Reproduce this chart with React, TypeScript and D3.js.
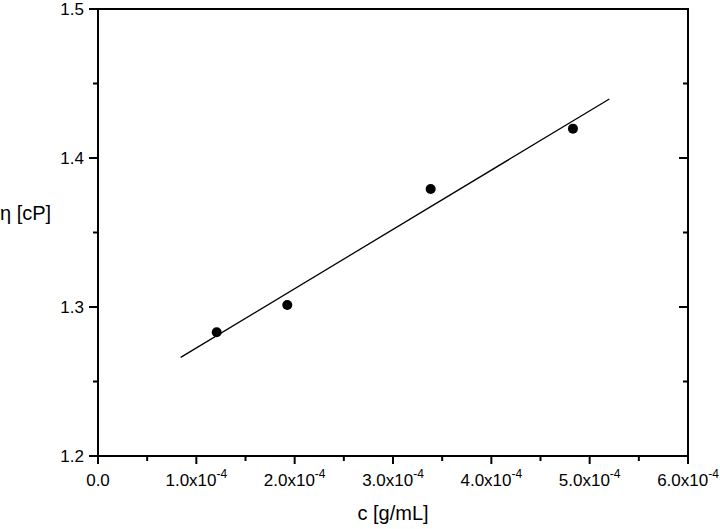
import React from 'react';
import * as d3 from 'd3';

// measured points
const concentration = [1.207e-4, 1.925e-4, 3.383e-4, 4.83e-4];
const viscosity = [1.283, 1.3013, 1.3792, 1.4197];

// linear fit, drawn between two end points
const fitX = [0.841e-4, 5.2e-4];
const fitY = [1.2662, 1.4396];

const xMajor = [0, 1e-4, 2e-4, 3e-4, 4e-4, 5e-4, 6e-4];
const xMinor = [0.5e-4, 1.5e-4, 2.5e-4, 3.5e-4, 4.5e-4, 5.5e-4];
const xTickMantissa = ['0.0', '1.0', '2.0', '3.0', '4.0', '5.0', '6.0'];
const yMajor = [1.2, 1.3, 1.4, 1.5];
const yMinor = [1.25, 1.35, 1.45];

const W = 720;
const H = 529;
const margin = { top: 9, right: 32, bottom: 73, left: 98 };
const font = '"Liberation Sans", Arial, sans-serif';

const App = () => {
  const x = d3.scaleLinear().domain([0, 6e-4]).range([margin.left, W - margin.right]);
  const y = d3.scaleLinear().domain([1.2, 1.5]).range([H - margin.bottom, margin.top]);

  const [x0, x1] = x.range();
  const [y0, y1] = y.range();

  const line = d3.line<number>()
    .x((d, i) => x(fitX[i]))
    .y((d) => y(d));

  return (
    <svg width={W} height={H} style={{ position: 'absolute', left: 0, top: 0, background: '#fff' }}
      fontFamily={font}>
      {/* fit line */}
      <path d={line(fitY) || ''} fill="none" stroke="#000" strokeWidth={1.3} />

      {/* data points */}
      {concentration.map((c, i) => (
        <circle key={i} cx={x(c)} cy={y(viscosity[i])} r={5} fill="#000" />
      ))}

      {/* frame */}
      <rect x={x0} y={y1} width={x1 - x0} height={y0 - y1} fill="none" stroke="#000" strokeWidth={2} />

      {/* bottom ticks, outward */}
      {xMajor.map((v) => (
        <line key={'xM' + v} x1={x(v)} x2={x(v)} y1={y0} y2={y0 + 8} stroke="#000" strokeWidth={2} />
      ))}
      {xMinor.map((v) => (
        <line key={'xm' + v} x1={x(v)} x2={x(v)} y1={y0} y2={y0 + 5} stroke="#000" strokeWidth={2} />
      ))}
      {xMajor.map((v, i) => (
        <text key={'xl' + v} x={x(v)} y={y0 + 30} fontSize={17} textAnchor="middle" fill="#000">
          {i === 0 ? xTickMantissa[i] : (
            <>
              {xTickMantissa[i]}x10
              <tspan fontSize={12} dy={-8}>-4</tspan>
            </>
          )}
        </text>
      ))}

      {/* left ticks outward, right ticks inward */}
      {yMajor.map((v) => (
        <g key={'yM' + v}>
          <line x1={x0 - 9} x2={x0} y1={y(v)} y2={y(v)} stroke="#000" strokeWidth={2} />
          <line x1={x1 - 9} x2={x1} y1={y(v)} y2={y(v)} stroke="#000" strokeWidth={2} />
          <text x={x0 - 14} y={y(v)} dy="0.35em" fontSize={17} textAnchor="end" fill="#000">
            {v.toFixed(1)}
          </text>
        </g>
      ))}
      {yMinor.map((v) => (
        <g key={'ym' + v}>
          <line x1={x0 - 5} x2={x0} y1={y(v)} y2={y(v)} stroke="#000" strokeWidth={2} />
          <line x1={x1 - 5} x2={x1} y1={y(v)} y2={y(v)} stroke="#000" strokeWidth={2} />
        </g>
      ))}

      {/* axis titles */}
      <text x={(x0 + x1) / 2} y={H - 9} fontSize={20} textAnchor="middle" fill="#000">c [g/mL]</text>
      <text x={0} y={220} fontSize={20} fill="#000">η [cP]</text>
    </svg>
  );
};

export default App;
